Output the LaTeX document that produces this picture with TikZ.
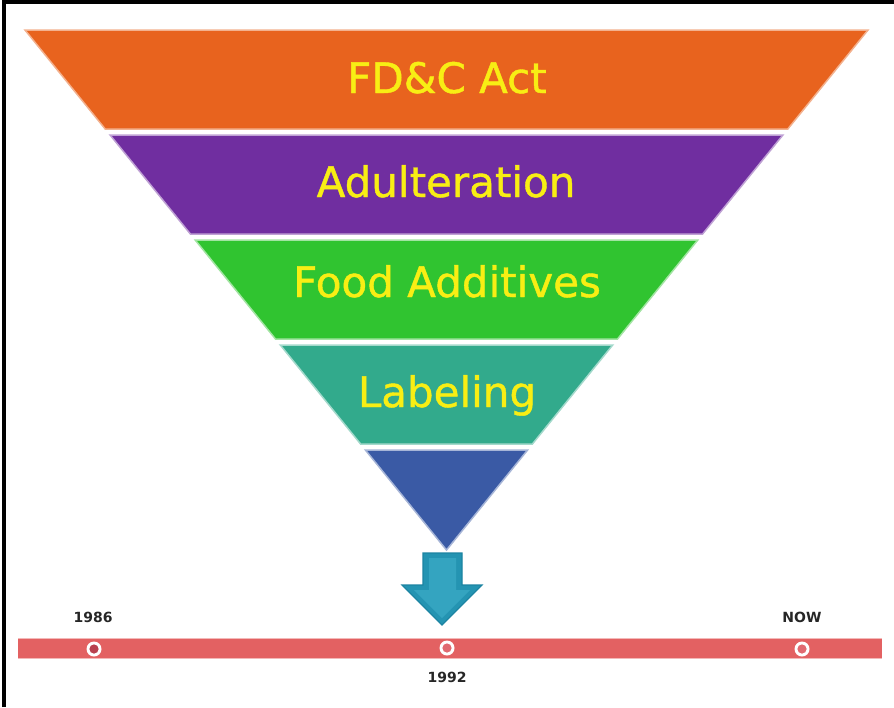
\documentclass[tikz,border=0pt]{standalone}
\usepackage{fontspec}
\setmainfont{DejaVu Sans}
\newfontfamily\bandfont[FakeBold=1]{DejaVu Sans}
\definecolor{cOrange}{RGB}{232,99,30}
\definecolor{cPurple}{RGB}{112,46,160}
\definecolor{cGreen}{RGB}{48,196,48}
\definecolor{cTeal}{RGB}{50,170,140}
\definecolor{cBlue}{RGB}{58,90,165}
\definecolor{cArrow}{RGB}{36,148,178}
\definecolor{cArrowIn}{RGB}{52,164,192}
\definecolor{cArrowDark}{RGB}{28,132,162}
\definecolor{cBar}{RGB}{227,97,98}
\definecolor{cDot}{RGB}{185,65,78}
\definecolor{cDotLight}{RGB}{225,105,112}
\definecolor{cText}{RGB}{248,238,20}
\tikzset{
  band/.style={line width=1.5pt, line join=miter},
  bandtext/.style={font=\bandfont\fontsize{42}{42}\selectfont, text=cText, anchor=base, inner sep=0pt},
  yearlabel/.style={font=\bfseries\fontsize{14}{14}\selectfont, text=black!85, inner sep=0pt},
  ring/.style={fill=white},
}
\begin{document}
\begin{tikzpicture}[x=1pt,y=-1pt]
\useasboundingbox (0,0) rectangle (894,707);
\fill[white] (0,0) rectangle (894,707);
% frame
\draw[line width=4pt] (4,707) -- (4,2) -- (894,2);
% bands
\filldraw[band, fill=cOrange, draw=cOrange!50!white] (25,30) -- (868,30) -- (787.8,129) -- (105.2,129) -- cycle;
\filldraw[band, fill=cPurple, draw=cPurple!45!white] (110.1,135) -- (782.9,135) -- (702.6,234) -- (190.4,234) -- cycle;
\filldraw[band, fill=cGreen, draw=cGreen!45!white] (195.2,240) -- (697.8,240) -- (617.5,339) -- (275.5,339) -- cycle;
\filldraw[band, fill=cTeal, draw=cTeal!45!white] (280.3,345) -- (612.7,345) -- (532.4,444) -- (360.6,444) -- cycle;
\filldraw[band, fill=cBlue, draw=cBlue!45!white] (365.4,450) -- (527.6,450) -- (446.5,550) -- cycle;
% band texts
\node[bandtext] (t1) at (447,93) {FD\&C Act};
\node[bandtext] (t2) at (446,197) {Adulteration};
\node[bandtext] (t3) at (447,297) {Food Additives};
\node[bandtext] (t4) at (447,407) {Labeling};
% arrow
\filldraw[fill=cArrow, draw=cArrowDark, line width=1.2pt, line join=miter]
  (423,553) -- (462,553) -- (462,585) -- (482,585) -- (442,625) -- (402,585) -- (423,585) -- cycle;
\fill[cArrowIn] (429,558) -- (456,558) -- (456,590) -- (470,590) -- (442,618) -- (414,590) -- (429,590) -- cycle;
% timeline
\fill[cBar] (18,638) rectangle (882,659);
\draw[cBar!45!white, line width=1pt] (18,638.5) -- (882,638.5);
\draw[cBar!45!white, line width=1pt] (18,658.5) -- (882,658.5);
\fill[ring] (94,649) circle (7.5);
\fill[cDot] (94,649) circle (4.6);
\fill[ring] (447,648) circle (7.5);
\fill[cDotLight] (447,648) circle (4.6);
\fill[ring] (802,649) circle (7.5);
\fill[cDotLight] (802,649) circle (4.6);
% labels
\node[yearlabel] (y1986) at (93,617) {1986};
\node[yearlabel] (ynow) at (802,617) {NOW};
\node[yearlabel] (y1992) at (447,677) {1992};
\end{tikzpicture}
\end{document}
